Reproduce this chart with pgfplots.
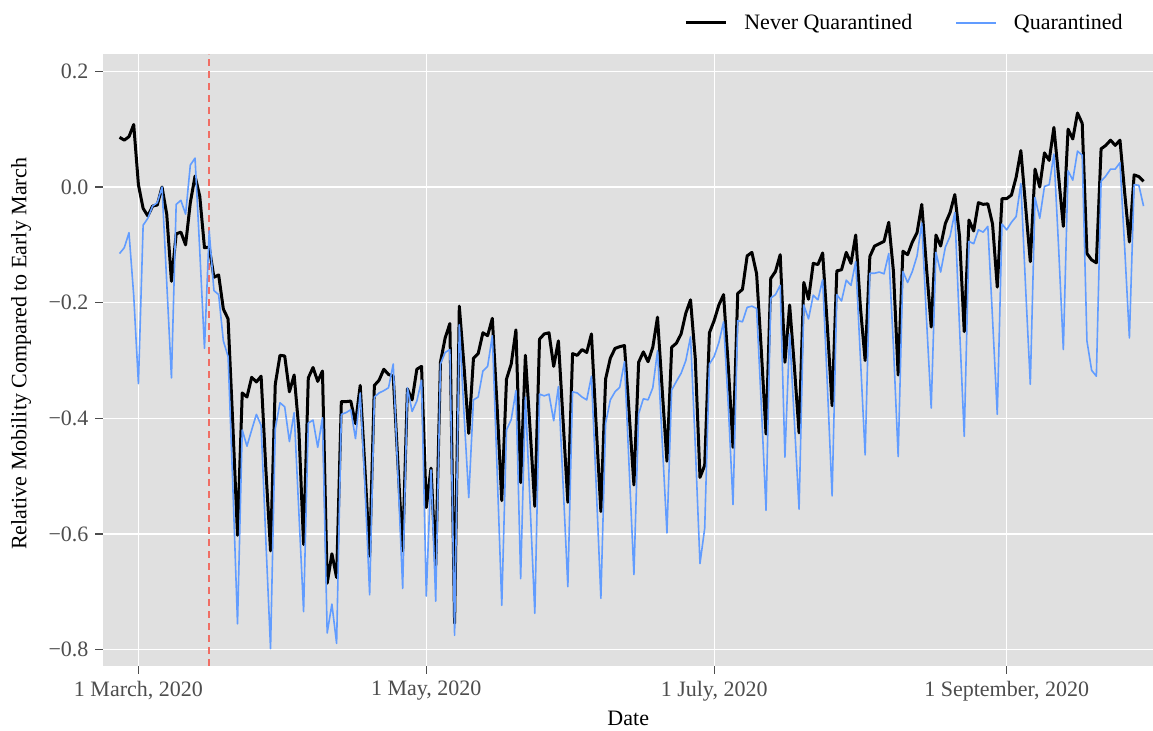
\documentclass[border=0pt]{standalone}
\usepackage{fontspec}
\setmainfont{Liberation Serif}
\usepackage{pgfplots}
\usepackage{pgfplotstable}
\pgfplotsset{compat=1.18}
\definecolor{panel}{RGB}{224,224,224}
\definecolor{qblue}{RGB}{97,156,255}
\definecolor{ticktext}{RGB}{77,77,77}
\definecolor{vred}{RGB}{240,110,100}

\pgfplotstableread{
d N Q
-4 0.086 -0.115
-3 0.081 -0.105
-2 0.087 -0.079
-1 0.108 -0.187
0 0.004 -0.340
1 -0.037 -0.066
2 -0.050 -0.054
3 -0.033 -0.033
4 -0.031 -0.027
5 0.000 0.000
6 -0.047 -0.165
7 -0.163 -0.330
8 -0.081 -0.030
9 -0.078 -0.023
10 -0.100 -0.047
11 -0.027 0.038
12 0.019 0.050
13 -0.016 -0.110
14 -0.105 -0.279
15 -0.104 -0.076
16 -0.156 -0.179
17 -0.152 -0.186
18 -0.211 -0.266
19 -0.228 -0.293
20 -0.410 -0.515
21 -0.602 -0.755
22 -0.356 -0.420
23 -0.363 -0.448
24 -0.329 -0.420
25 -0.337 -0.393
26 -0.327 -0.412
27 -0.487 -0.610
28 -0.629 -0.798
29 -0.341 -0.418
30 -0.291 -0.373
31 -0.292 -0.380
32 -0.354 -0.440
33 -0.325 -0.390
34 -0.419 -0.562
35 -0.618 -0.734
36 -0.330 -0.408
37 -0.312 -0.403
38 -0.336 -0.450
39 -0.318 -0.399
40 -0.685 -0.771
41 -0.634 -0.721
42 -0.675 -0.789
43 -0.371 -0.393
44 -0.371 -0.390
45 -0.370 -0.385
46 -0.409 -0.435
47 -0.343 -0.356
48 -0.487 -0.515
49 -0.638 -0.705
50 -0.343 -0.363
51 -0.334 -0.356
52 -0.315 -0.352
53 -0.324 -0.347
54 -0.327 -0.306
55 -0.480 -0.500
56 -0.629 -0.694
57 -0.349 -0.347
58 -0.368 -0.388
59 -0.315 -0.370
60 -0.310 -0.334
61 -0.554 -0.707
62 -0.486 -0.489
63 -0.655 -0.716
64 -0.303 -0.306
65 -0.261 -0.286
66 -0.236 -0.281
67 -0.754 -0.775
68 -0.206 -0.238
69 -0.310 -0.392
70 -0.426 -0.537
71 -0.296 -0.368
72 -0.288 -0.363
73 -0.252 -0.318
74 -0.257 -0.310
75 -0.227 -0.257
76 -0.378 -0.487
77 -0.542 -0.723
78 -0.332 -0.420
79 -0.306 -0.402
80 -0.247 -0.352
81 -0.511 -0.677
82 -0.291 -0.363
83 -0.419 -0.549
84 -0.552 -0.737
85 -0.263 -0.358
86 -0.254 -0.361
87 -0.252 -0.358
88 -0.310 -0.404
89 -0.266 -0.345
90 -0.405 -0.515
91 -0.545 -0.691
92 -0.288 -0.354
93 -0.291 -0.356
94 -0.281 -0.363
95 -0.286 -0.368
96 -0.254 -0.327
97 -0.412 -0.515
98 -0.561 -0.711
99 -0.332 -0.409
100 -0.296 -0.368
101 -0.279 -0.354
102 -0.276 -0.346
103 -0.274 -0.302
104 -0.392 -0.487
105 -0.515 -0.670
106 -0.303 -0.392
107 -0.285 -0.366
108 -0.302 -0.368
109 -0.277 -0.347
110 -0.225 -0.283
111 -0.351 -0.440
112 -0.474 -0.598
113 -0.277 -0.351
114 -0.270 -0.336
115 -0.254 -0.322
116 -0.218 -0.300
117 -0.195 -0.259
118 -0.296 -0.446
119 -0.502 -0.651
120 -0.481 -0.590
121 -0.252 -0.306
122 -0.231 -0.293
123 -0.204 -0.269
124 -0.186 -0.233
125 -0.310 -0.378
126 -0.450 -0.549
127 -0.184 -0.231
128 -0.177 -0.233
129 -0.119 -0.208
130 -0.113 -0.206
131 -0.150 -0.210
132 -0.283 -0.378
133 -0.427 -0.559
134 -0.158 -0.192
135 -0.146 -0.186
136 -0.117 -0.170
137 -0.303 -0.467
138 -0.204 -0.254
139 -0.310 -0.405
140 -0.425 -0.557
141 -0.165 -0.204
142 -0.194 -0.228
143 -0.132 -0.187
144 -0.134 -0.195
145 -0.114 -0.160
146 -0.242 -0.344
147 -0.378 -0.534
148 -0.145 -0.186
149 -0.143 -0.197
150 -0.113 -0.161
151 -0.132 -0.170
152 -0.083 -0.129
153 -0.208 -0.296
154 -0.300 -0.463
155 -0.120 -0.149
156 -0.102 -0.149
157 -0.098 -0.147
158 -0.094 -0.150
159 -0.061 -0.115
160 -0.146 -0.276
161 -0.325 -0.466
162 -0.111 -0.146
163 -0.117 -0.165
164 -0.095 -0.146
165 -0.079 -0.119
166 -0.030 -0.062
167 -0.139 -0.228
168 -0.242 -0.382
169 -0.083 -0.113
170 -0.102 -0.147
171 -0.063 -0.104
172 -0.044 -0.085
173 -0.013 -0.044
174 -0.085 -0.242
175 -0.250 -0.431
176 -0.057 -0.094
177 -0.076 -0.098
178 -0.027 -0.074
179 -0.030 -0.078
180 -0.029 -0.068
181 -0.064 -0.228
182 -0.173 -0.393
183 -0.020 -0.064
184 -0.020 -0.074
185 -0.014 -0.061
186 0.017 -0.051
187 0.063 0.006
188 -0.033 -0.173
189 -0.129 -0.341
190 0.031 -0.018
191 0.000 -0.054
192 0.059 0.001
193 0.046 0.004
194 0.103 0.057
195 0.018 -0.105
196 -0.068 -0.281
197 0.100 0.028
198 0.083 0.012
199 0.128 0.062
200 0.110 0.055
201 -0.115 -0.266
202 -0.126 -0.317
203 -0.131 -0.327
204 0.066 0.010
205 0.072 0.019
206 0.081 0.031
207 0.072 0.031
208 0.081 0.042
209 -0.010 -0.105
210 -0.095 -0.261
211 0.021 0.004
212 0.018 0.003
213 0.010 -0.033
}\mob

\begin{document}
\begin{tikzpicture}
\path[use as bounding box] (0,0) rectangle (576.5pt,365.5pt);
\begin{axis}[
  at={(51.75pt,32.5pt)}, anchor=south west,
  scale only axis, width=524.75pt, height=306pt,
  xmin=-7.4, xmax=215, ymin=-0.828, ymax=0.23,
  axis background/.style={fill=panel},
  axis line style={draw=none},
  grid=major, major grid style={white, line width=0.6pt},
  xtick={0,61,122,184},
  xticklabels={{1 March, 2020},{1 May, 2020},{1 July, 2020},{1 September, 2020}},
  ytick={-0.8,-0.6,-0.4,-0.2,0,0.2},
  yticklabels={−0.8,−0.6,−0.4,−0.2,0.0,0.2},
  tick align=outside, major tick length=4pt,
  tick style={color=ticktext, line width=0.6pt},
  xtick pos=bottom, ytick pos=left,
  ticklabel style={font=\fontsize{11}{13}\selectfont, color=ticktext},
  label style={font=\fontsize{11}{13}\selectfont},
  xlabel={Date},
  ylabel={Relative Mobility Compared to Early March},
  xlabel style={at={(axis description cs:0.5,-0.085)}, anchor=center},
  ylabel style={at={(axis description cs:-0.0786,0.51)}, anchor=center},
  legend style={at={(axis description cs:0.981,1)}, anchor=east, yshift=15.5pt,
    draw=none, fill=none, font=\fontsize{11}{13}\selectfont,
    /tikz/every even column/.append style={column sep=19.5pt}},
  legend columns=2,
  legend cell align=left,
  legend image code/.code={\draw[#1] (0pt,0pt) -- (20pt,0pt); \path (26.5pt,0pt);},
]
\addplot[vred, line width=0.8pt, dash pattern=on 3.5pt off 2.5pt, forget plot] coordinates {(15,-0.828) (15,0.23)};
\addplot[black, line width=1.5pt, line join=round] table[x=d, y=N] {\mob};
\addlegendentry{Never Quarantined}
\addplot[qblue, line width=0.8pt, line join=round] table[x=d, y=Q] {\mob};
\addlegendentry{Quarantined}
\end{axis}
\end{tikzpicture}
\end{document}
